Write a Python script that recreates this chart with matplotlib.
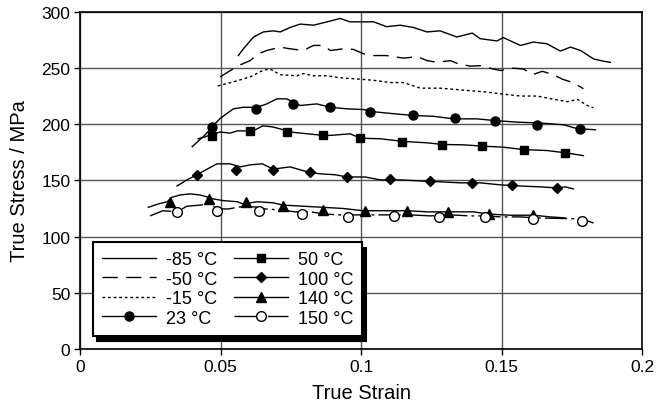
import matplotlib
matplotlib.use("Agg")
import matplotlib.pyplot as plt
from matplotlib.lines import Line2D

plt.rcParams['font.family'] = ['Liberation Sans', 'DejaVu Sans']

# strain / stress
x_m85 = [0.0563, 0.0581, 0.0617, 0.0652, 0.0687, 0.0712, 0.0747, 0.0783, 0.083, 0.0879, 0.0925, 0.096,
         0.0996, 0.1044, 0.109, 0.1139, 0.1185, 0.1234, 0.128, 0.134, 0.1395, 0.1423, 0.1483, 0.1505,
         0.1566, 0.1612, 0.166, 0.1708, 0.1744, 0.178, 0.1826, 0.1861, 0.1886]
y_m85 = [261, 267, 277.5, 282, 283, 282, 286, 289, 288, 291, 294, 291,
         291, 291, 286.7, 288, 286, 282, 283, 277.5, 281, 276, 274, 277,
         270, 273, 271.5, 265, 268.5, 265.5, 258, 256, 255]

x_m50 = [0.0498, 0.0527, 0.0563, 0.0605, 0.0634, 0.0664, 0.0712, 0.0747, 0.0794, 0.083, 0.0865, 0.089,
         0.0936, 0.0972, 0.1008, 0.1044, 0.109, 0.115, 0.12, 0.1234, 0.127, 0.1317, 0.1345, 0.1388,
         0.1423, 0.147, 0.1495, 0.154, 0.1577, 0.1609, 0.1644, 0.1684, 0.1715, 0.1755, 0.179]
y_m50 = [242, 246.5, 252, 256.5, 262.6, 265.5, 268.5, 267, 265.5, 270, 270, 265.5,
         267, 266.5, 262.6, 261, 261, 258.7, 260, 256.5, 255, 256.5, 253.7, 251.6,
         252, 249, 247.7, 249.8, 249, 244, 247, 244, 240, 236.8, 231.5]

x_m15 = [0.049, 0.0545, 0.0605, 0.0652, 0.0676, 0.0712, 0.0771, 0.0794, 0.083, 0.0877, 0.0936, 0.0996,
         0.1044, 0.1103, 0.115, 0.121, 0.128, 0.1376, 0.1447, 0.1495, 0.1566, 0.1626, 0.1673, 0.1733,
         0.1769, 0.1804, 0.1826]
y_m15 = [234, 237.6, 242, 248, 249, 244, 243, 245, 243, 243, 241, 240,
         239, 237, 237, 232, 232, 230, 228.5, 227, 225, 225, 222.6, 220,
         222, 216.6, 214.5]

x_23 = [0.0399, 0.0445, 0.047, 0.0498, 0.0545, 0.058, 0.063, 0.0664, 0.07, 0.0735, 0.0783, 0.0842,
        0.089, 0.095, 0.1008, 0.1056, 0.1127, 0.1186, 0.1257, 0.1328, 0.1412, 0.1483, 0.1554, 0.1637,
        0.172, 0.1768, 0.1833]
y_23 = [180, 190.5, 197.6, 205, 213.6, 215, 215, 218, 222.5, 222.5, 216.6, 218,
        215, 213.6, 213, 210.7, 209, 207.7, 207, 204.7, 204.7, 203, 201.8, 201,
        199.4, 196, 195]
mx_23 = [0.047, 0.0626, 0.0758, 0.089, 0.1032, 0.1185, 0.1335, 0.1477, 0.1626, 0.1779]
my_23 = [197.6, 213.6, 218, 215.4, 211, 208.3, 205.4, 202.4, 199.4, 196]

x_50 = [0.042, 0.0445, 0.047, 0.0498, 0.0534, 0.0559, 0.0587, 0.0623, 0.065, 0.0683, 0.0712, 0.0747,
        0.0864, 0.089, 0.0961, 0.0996, 0.1068, 0.115, 0.1234, 0.1292, 0.1363, 0.1434, 0.1505, 0.1577,
        0.1662, 0.1726, 0.179]
y_50 = [187, 188.7, 191, 193, 192, 194, 194, 195, 198.5, 197.6, 195.8, 193,
        190, 190, 191.4, 187.5, 187, 184.6, 183.4, 181.9, 181.6, 180.4, 179.5, 177.4,
        176.5, 174.5, 172]
mx_50 = [0.047, 0.0605, 0.0737, 0.0865, 0.0996, 0.1146, 0.1288, 0.143, 0.1577, 0.1726]
my_50 = [189.6, 194, 193, 190, 187.8, 184.3, 181.6, 180.7, 177, 174.5]

x_100 = [0.0345, 0.038, 0.0416, 0.0452, 0.0487, 0.0534, 0.057, 0.0605, 0.0648, 0.0687, 0.0747, 0.0808,
         0.0854, 0.0907, 0.095, 0.1014, 0.1068, 0.1139, 0.121, 0.1281, 0.1352, 0.1423, 0.1495, 0.1566,
         0.1637, 0.1697, 0.1726, 0.1754]
y_100 = [145, 150.4, 155, 160, 164.7, 164.7, 162, 163.8, 164.7, 160, 162, 157.6,
         155.8, 155, 153, 153, 150.4, 150.4, 149.5, 148.7, 147.8, 147.8, 146, 145,
         144.2, 143.3, 144.2, 142.4]
mx_100 = [0.0416, 0.0555, 0.0687, 0.0819, 0.095, 0.1103, 0.1246, 0.1395, 0.1537, 0.1697]
my_100 = [155, 159, 159, 157.6, 153, 151, 149, 148, 146, 143]

x_140 = [0.0243, 0.0278, 0.031, 0.0327, 0.0356, 0.0391, 0.0427, 0.0456, 0.0474, 0.0509, 0.0559, 0.058,
         0.063, 0.0687, 0.0722, 0.0794, 0.0865, 0.0936, 0.1007, 0.1078, 0.1164, 0.1235, 0.131, 0.14,
         0.1452, 0.153, 0.1612, 0.1673, 0.1726]
y_140 = [126, 129, 131, 135, 137, 138, 137, 135, 133.5, 132, 131, 129,
         131, 130, 128, 127, 126, 125, 123, 123, 123, 122, 122, 122,
         120, 119, 119, 117.5, 116.6]
mx_140 = [0.032, 0.0459, 0.059, 0.0722, 0.0865, 0.1014, 0.1164, 0.131, 0.1456, 0.1612]
my_140 = [131, 133.5, 131, 127, 124, 123, 123, 122, 120, 119]

x_150 = [0.0249, 0.0295, 0.0345, 0.038, 0.0427, 0.0463, 0.0488, 0.0527, 0.057, 0.0623, 0.0658, 0.0712,
         0.0765, 0.0819, 0.0872, 0.0925, 0.0979, 0.1032, 0.1103, 0.1174, 0.1246, 0.1317, 0.1388, 0.1441,
         0.1495, 0.1566, 0.162, 0.1786, 0.1826]
y_150 = [118.4, 123, 122, 127, 128, 129, 124.6, 124.6, 126.4, 126.4, 124.6, 123.7,
         122, 122, 120, 119.3, 119.3, 119.3, 119.3, 119.3, 118.4, 119.3, 118.4, 118.4,
         117.5, 117.5, 116.6, 115.7, 112]
mx_150 = [0.0345, 0.0488, 0.0637, 0.079, 0.0954, 0.1117, 0.1278, 0.144, 0.161, 0.1786]
my_150 = [122, 123, 123, 120, 117.5, 118.4, 117.5, 117.5, 115.7, 114]

labels = ['-85 °C', '-50 °C', '-15 °C', '23 °C', '50 °C', '100 °C', '140 °C', '150 °C']
xticks = [0, 0.05, 0.1, 0.15, 0.2]
xtick_labels = ['0', '0.05', '0.1', '0.15', '0.2']
yticks = [0, 50, 100, 150, 200, 250, 300]

LW = 1.0
K = 'black'


def draw(ax, x, y, ls, mx=None, my=None, marker=None, ms=6, mfc=K):
    ax.plot(x, y, color=K, lw=LW, linestyle=ls)
    if mx is not None:
        ax.plot(mx, my, linestyle='none', marker=marker, ms=ms, mfc=mfc, mec=K, mew=1.0)
    return Line2D([], [], color=K, lw=LW, linestyle=ls, marker=marker, ms=ms,
                  mfc=mfc, mec=K, mew=1.0)


fig = plt.figure(figsize=(6.58, 4.10), dpi=100)
ax = fig.add_axes([0.1216, 0.1463, 0.8548, 0.8227])

dash50 = (0, (11, 6))
dot15 = (0, (2, 2))
dash150 = (0, (16, 3, 2, 3))

handles = [
    draw(ax, x_m85, y_m85, '-'),
    draw(ax, x_m50, y_m50, dash50),
    draw(ax, x_m15, y_m15, dot15),
    draw(ax, x_23, y_23, '-', mx_23, my_23, 'o', 6.5),
    draw(ax, x_50, y_50, '-', mx_50, my_50, 's', 6),
    draw(ax, x_100, y_100, '-', mx_100, my_100, 'D', 5.5),
    draw(ax, x_140, y_140, '-', mx_140, my_140, '^', 7),
    draw(ax, x_150, y_150, dash150, mx_150, my_150, 'o', 7, 'white'),
]

ax.set_xlim(0, 0.2)
ax.set_ylim(0, 300)
ax.set_xticks(xticks)
ax.set_xticklabels(xtick_labels)
ax.set_yticks(yticks)
ax.grid(True, color='#555555', lw=1.0)
ax.set_axisbelow(True)
for s in ax.spines.values():
    s.set_linewidth(1.2)
ax.tick_params(direction='out', length=4, width=1.0, labelsize=12.5, pad=3)

ax.set_xlabel('True Strain', fontsize=14.5, labelpad=7)
ax.set_ylabel('True Stress / MPa', fontsize=14.5, labelpad=9)

leg = ax.legend(handles, labels, ncol=2, loc='upper left', bbox_to_anchor=(0.023, 0.317),
                borderaxespad=0, fontsize=13, handlelength=3.0, handletextpad=0.55,
                columnspacing=0.9, labelspacing=0.14, borderpad=0.5, fancybox=False,
                framealpha=1, edgecolor='black',
                shadow={'ox': 3, 'oy': -4, 'color': 'black', 'alpha': 1})
leg.get_frame().set_linewidth(1.5)

fig.savefig('out.png', dpi=100)
